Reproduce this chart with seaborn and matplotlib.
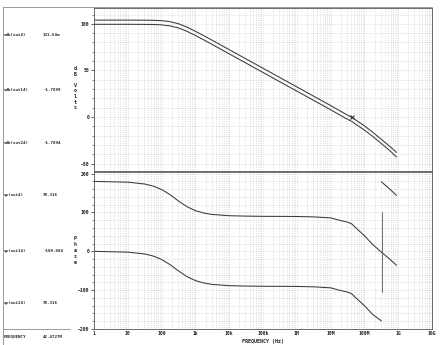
import pandas as pd
import seaborn as sns
import matplotlib.pyplot as plt
from matplotlib.ticker import MultipleLocator, LogLocator, NullFormatter
from matplotlib.lines import Line2D

# frequency points (Hz)
freq = [1, 10, 31.6, 56.2, 100, 178, 316, 562, 1e3, 1.78e3, 3.16e3, 1e4, 3.16e4,
        1e5, 3.16e5, 1e6, 3.16e6, 1e7, 1.78e7, 3.16e7, 4.247e7, 5.62e7, 1e8,
        1.78e8, 3.16e8, 5.62e8, 8.9e8]

# magnitude traces (dB)
vdb_out4 = [104, 104, 103.9, 103.8, 103.4, 102.3, 100.1, 96.5, 92.0, 87.2, 82.3,
            72.3, 62.3, 52.3, 42.3, 32.3, 22.3, 12.3, 7.1, 2.0, -0.3, -3.4, -9.5,
            -16.5, -24, -31.5, -38]
vdb_out14 = [99.5, 99.5, 99.4, 99.3, 98.9, 97.8, 95.6, 92.0, 87.5, 82.7, 77.8,
             67.8, 57.8, 47.8, 37.8, 27.8, 17.8, 7.8, 2.6, -2.5, -4.8, -8, -14,
             -21, -28.5, -36, -43]

# phase traces (deg)
vp_out4 = [179.8, 177.8, 173.1, 167.8, 159.0, 145.6, 129.4, 114.8, 104.6, 98.3,
           94.7, 91.5, 90.5, 89.9, 89.8, 89.5, 88.5, 86, 80, 75, 70.3, 60, 40,
           17, -2, -20, -36]
vp_out14 = [-0.2, -2.2, -6.9, -12.2, -21.0, -34.4, -50.6, -65.2, -75.4, -81.7,
            -85.3, -88.5, -89.5, -90.1, -90.2, -90.5, -91.5, -94, -100, -105,
            -109.7, -120, -140, -163, -179]
# part of vp(out14) after it wraps past -180
wrap_freq = [3.16e8, 5.62e8, 8.9e8]
wrap_phase = [179, 160, 144]

cursor_freq = 4.247e7
cursor_db = -0.3
jump_freq = 3.3e8
jump_phase = [100, -105]

xtick_vals = [1, 10, 100, 1e3, 1e4, 1e5, 1e6, 1e7, 1e8, 1e9, 1e10]
xtick_labels = ['1', '10', '100', '1k', '10k', '100k', '1M', '10M', '100M', '1G', '10G']

readouts = [('vdb(out4)', '131.64m', 35), ('vdb(out14)', '-1.7899', 90),
            ('vdb(out24)', '-1.7894', 143), ('vp(out4)', '70.316', 195),
            ('vp(out14)', '-109.684', 251), ('vp(out24)', '70.316', 303)]

sns.set_theme(style='white')
plt.rcParams['font.family'] = ['DejaVu Sans Mono']
plt.rcParams['font.weight'] = 'bold'

W, H = 441, 345
fig = plt.figure(figsize=(W / 100, H / 100), dpi=100)
fig.patch.set_facecolor('white')


def fx(px):
    return px / W


def fy(py):
    return 1 - py / H


ax1 = fig.add_axes([fx(94), fy(171), fx(432) - fx(94), fy(8) - fy(171)])
ax2 = fig.add_axes([fx(94), fy(329), fx(432) - fx(94), fy(172) - fy(329)])

line_col = '#3a3a3a'
lw = 0.75

mag = pd.DataFrame({'freq': freq, 'out4': vdb_out4, 'out14': vdb_out14})
ph = pd.DataFrame({'freq': freq, 'out4': vp_out4})
ph14 = pd.DataFrame({'freq': freq[:len(vp_out14)], 'out14': vp_out14})
wr = pd.DataFrame({'freq': wrap_freq, 'phase': wrap_phase})

sns.lineplot(data=mag, x='freq', y='out4', ax=ax1, color=line_col, lw=lw)
sns.lineplot(data=mag, x='freq', y='out14', ax=ax1, color=line_col, lw=lw)
ax1.plot([cursor_freq], [cursor_db], marker='x', ms=2.5, mew=0.7, color='#222')

sns.lineplot(data=ph, x='freq', y='out4', ax=ax2, color=line_col, lw=lw)
sns.lineplot(data=ph14, x='freq', y='out14', ax=ax2, color=line_col, lw=lw)
sns.lineplot(data=wr, x='freq', y='phase', ax=ax2, color=line_col, lw=lw)
ax2.plot([jump_freq, jump_freq], jump_phase, color='#555', lw=0.6)

for ax in (ax1, ax2):
    ax.set_xscale('log')
    ax.set_xlim(1, 1e10)
    ax.xaxis.set_major_locator(LogLocator(base=10, numticks=20))
    ax.xaxis.set_minor_locator(LogLocator(base=10, subs=range(2, 10), numticks=200))
    ax.xaxis.set_minor_formatter(NullFormatter())
    ax.grid(which='both', color='#c8c8c8', ls=':', lw=0.5)
    ax.set_xlabel('')
    ax.set_ylabel('')
    for s in ax.spines.values():
        s.set_color('#555')
        s.set_linewidth(0.6)
    ax.tick_params(axis='y', which='major', labelsize=3.4, length=2.5, width=0.5,
                   pad=1, colors='#222', left=True)
    ax.tick_params(axis='y', which='minor', length=1.3, width=0.4, left=True)
    ax.tick_params(axis='x', which='both', bottom=False, length=0)

ax1.set_ylim(-58, 117)
ax1.set_yticks([100, 50, 0, -50])
ax1.yaxis.set_minor_locator(MultipleLocator(10))
ax1.set_xticklabels([])

ax2.set_ylim(-200, 204)
ax2.set_yticks([200, 100, 0, -100, -200])
ax2.yaxis.set_minor_locator(MultipleLocator(20))
ax2.set_xticks(xtick_vals)
ax2.set_xticklabels(xtick_labels)
ax2.set_xlim(1, 1e10)
ax2.tick_params(axis='x', which='major', labelsize=3.4, pad=1.2, length=0, colors='#222')

# stacked axis titles
fig.text(fx(75), fy(66), 'd\nB\n\nV\no\nl\nt\ns', ha='center', va='top',
         fontsize=3.6, linespacing=1.15, color='#222')
fig.text(fx(75), fy(236), 'P\nh\na\ns\ne', ha='center', va='top',
         fontsize=3.6, linespacing=1.25, color='#222')

# cursor readout panel
for name, val, y in readouts:
    fig.text(fx(4), fy(y), name, ha='left', va='center', fontsize=3.0, color='#222')
    fig.text(fx(43), fy(y), val, ha='left', va='center', fontsize=3.0, color='#222')
fig.text(fx(4), fy(337), 'FREQUENCY', ha='left', va='center', fontsize=3.0, color='#222')
fig.text(fx(43), fy(337), '42.4727M', ha='left', va='center', fontsize=3.0, color='#222')

fig.text(fx(263), fy(342), 'FREQUENCY (Hz)', ha='center', va='center',
         fontsize=3.6, color='#222')

# page frame lines
frame = '#8a8a8a'
fig.add_artist(Line2D([fx(3), fx(3)], [fy(7), fy(345)], transform=fig.transFigure,
                      color=frame, lw=0.6))
fig.add_artist(Line2D([fx(3), fx(432)], [fy(7), fy(7)], transform=fig.transFigure,
                      color=frame, lw=0.6))
fig.add_artist(Line2D([fx(3), fx(70)], [fy(329), fy(329)], transform=fig.transFigure,
                      color=frame, lw=0.6))

fig.savefig('out.png', dpi=100)
